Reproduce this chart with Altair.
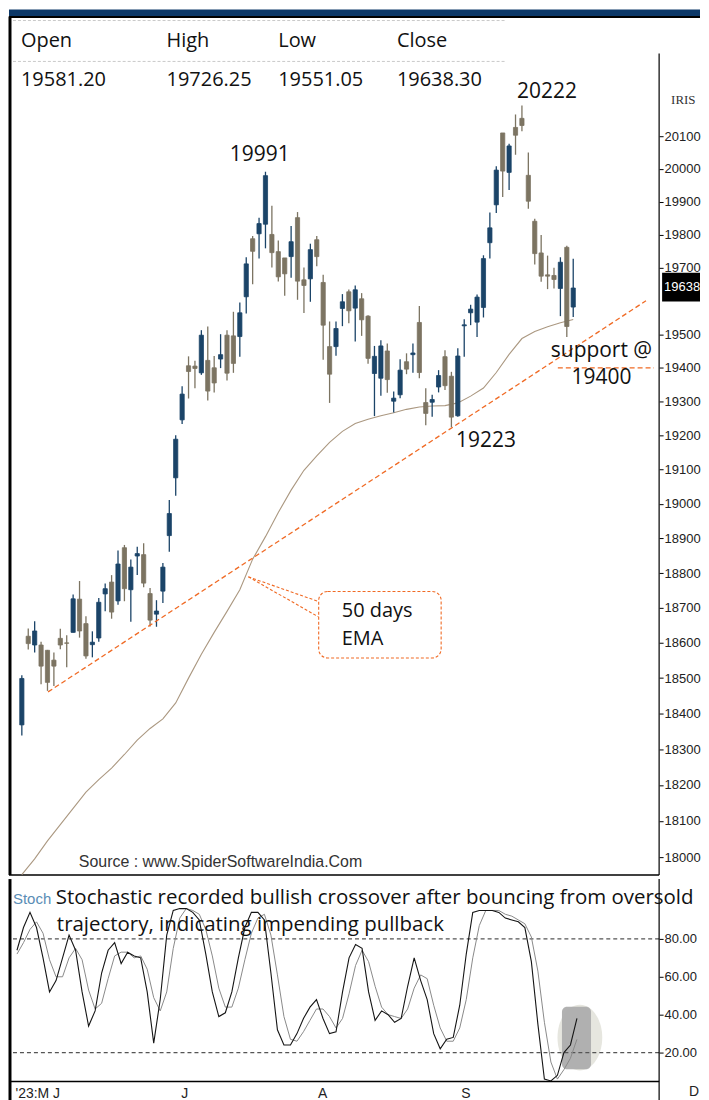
import json
import altair as alt
import pandas as pd

# ---------------- data ----------------
# daily candles, 26 May 2023 -> 29 Sep 2023 (index = trading-day slot)
opens = [18368, 18619, 18594, 18594, 18579, 18551, 18613, 18600, 18630, 18725,
         18655, 18595, 18614, 18740, 18774, 18720, 18873, 18752, 18849, 18853,
         18741, 18682, 18748, 18908, 19076, 19246, 19406, 19405, 19385, 19422,
         19400, 19426, 19497, 19495, 19493, 19612, 19787, 19802, 19831, 19800,
         19748, 19729, 19733, 19851, 19663, 19666, 19784, 19655, 19463, 19463,
         19577, 19627, 19578, 19606, 19554, 19383, 19369, 19450, 19301, 19320,
         19418, 19439, 19535, 19297, 19298, 19343, 19433, 19375, 19258, 19525,
         19564, 19536, 19580, 19775, 19890, 20110, 19989, 20127, 20155, 19980,
         19840, 19744, 19678, 19676, 19637, 19761, 19581.20]
highs = [18508, 18641, 18662, 18603, 18580, 18573, 18640, 18622, 18738, 18777,
         18676, 18633, 18728, 18770, 18794, 18865, 18881, 18839, 18876, 18886,
         18757, 18722, 18829, 19011, 19201, 19345, 19434, 19421, 19512, 19523,
         19435, 19500, 19512, 19567, 19595, 19731, 19795, 19851, 19991, 19887,
         19782, 19729, 19826, 19868, 19700, 19772, 19795, 19678, 19538, 19538,
         19620, 19634, 19646, 19623, 19557, 19465, 19482, 19472, 19330, 19425,
         19443, 19472, 19584, 19339, 19320, 19393, 19452, 19388, 19458, 19545,
         19588, 19619, 19737, 19867, 20008, 20110, 20077, 20167, 20195, 20050,
         19848, 19798, 19736, 19699, 19731, 19766, 19726.25]
lows = [18338, 18581, 18573, 18483, 18464, 18478, 18582, 18531, 18630, 18615,
        18555, 18559, 18603, 18690, 18669, 18709, 18719, 18660, 18794, 18759,
        18647, 18646, 18714, 18861, 19024, 19234, 19309, 19339, 19379, 19303,
        19327, 19399, 19362, 19385, 19433, 19562, 19650, 19727, 19758, 19700,
        19658, 19615, 19669, 19603, 19563, 19597, 19704, 19424, 19296, 19436,
        19524, 19533, 19478, 19495, 19412, 19257, 19317, 19326, 19268, 19310,
        19381, 19385, 19369, 19230, 19255, 19327, 19334, 19224, 19255, 19433,
        19527, 19492, 19550, 19727, 19865, 19914, 19935, 20043, 20115, 19878,
        19709, 19657, 19635, 19637, 19554, 19492, 19551.05]
closes = [18499, 18598, 18634, 18534, 18488, 18534, 18594, 18599, 18726, 18634,
          18563, 18602, 18716, 18755, 18688, 18826, 18755, 18817, 18856, 18771,
          18665, 18691, 18817, 18972, 19189, 19322, 19389, 19398, 19497, 19331,
          19355, 19439, 19384, 19413, 19564, 19711, 19749, 19833, 19979, 19745,
          19672, 19681, 19778, 19659, 19646, 19754, 19733, 19527, 19381, 19517,
          19597, 19570, 19633, 19543, 19428, 19434, 19465, 19365, 19310, 19393,
          19396, 19444, 19386, 19265, 19306, 19377, 19347, 19254, 19435, 19528,
          19575, 19611, 19727, 19820, 19996, 19993, 20070, 20103, 20133, 19901,
          19742, 19674, 19674, 19664, 19716, 19523, 19638.30]

# 50-day EMA read every second slot
ema_idx = [0, 2, 4, 6, 8, 10, 12, 14, 16, 18, 20, 22, 24, 26, 28, 30, 32, 34, 36, 38, 40, 42,
           44, 46, 48, 50, 52, 54, 56, 58, 60, 62, 64, 66, 68, 70, 72, 74, 76, 78, 80, 82, 84, 86]
ema_val = [17952, 17995, 18045, 18090, 18135, 18180, 18215, 18247, 18285, 18325, 18358, 18385,
           18430, 18500, 18568, 18630, 18690, 18752, 18840, 18905, 18975, 19040, 19098, 19140,
           19180, 19212, 19235, 19248, 19258, 19267, 19277, 19284, 19287, 19288, 19296, 19316,
           19340, 19386, 19440, 19487, 19508, 19522, 19534, 19544]

# stochastic %K and %D
stoch_k = [74, 86, 94, 86, 70, 52, 58, 70, 82, 74,
           52, 34, 42, 62, 74, 78, 67, 73, 71, 70,
           52, 25, 48, 82, 95, 96, 96, 94, 90, 72,
           52, 39, 41, 52, 70, 86, 94, 94, 90, 62,
           32, 24, 24, 30, 38, 44, 48, 38, 30, 31,
           52, 70, 77, 75, 52, 37, 42, 40, 36, 38,
           55, 70, 58, 48, 30, 22, 27, 28, 45, 72,
           94, 95, 95, 95, 94, 91, 90, 89, 86, 68,
           35, 6, 5, 8, 20, 24, 38]
stoch_d = [72, 78, 85, 89, 83, 69, 60, 60, 70, 75,
           69, 53, 43, 46, 59, 71, 73, 73, 70, 71,
           64, 49, 42, 52, 75, 91, 96, 95, 93, 85,
           71, 54, 44, 44, 54, 69, 83, 91, 93, 82,
           61, 39, 27, 26, 31, 37, 43, 43, 39, 33,
           38, 51, 66, 74, 68, 55, 44, 40, 39, 38,
           43, 54, 61, 59, 45, 33, 26, 26, 33, 48,
           70, 87, 95, 95, 95, 93, 92, 90, 88, 81,
           63, 36, 15, 6, 11, 17, 27]

price_ticks = [18000, 18100, 18200, 18300, 18400, 18500, 18600, 18700, 18800, 18900, 19000,
               19100, 19200, 19300, 19400, 19500, 19700, 19800, 19900, 20000, 20100]
stoch_ticks = [20, 40, 60, 80]
month_tick_idx = [-0.46, 25, 46, 68]
month_tick_lab = ["'23:M J", "J", "A", "S"]

ohlc_names = ["Open", "High", "Low", "Close"]
ohlc_values = ["19581.20", "19726.25", "19551.05", "19638.30"]

trend_idx = [4.09, 97.35]
trend_price = [18461, 19600]
support_idx = [83.6, 98.6]
support_price = [19400, 19400]

# ---------------- styling ----------------
BLUE = "#1b4468"
BROWN = "#7c7462"
ORANGE = "#f06a24"
EMA_C = "#ab9881"
TXT_FONT = "Open Sans"
AX_FONT = "Liberation Sans"

W = 652
H_PRICE = 868
H_STOCH = 203
RIGHT = 693  # whole chart must stay inside the page body

x_dom = [-1.225, 98.62]
x_scale = alt.Scale(domain=x_dom, nice=False, zero=False)
y_scale = alt.Scale(type="log", domain=[17950.6, 20493.4], nice=False, zero=False)
sy_scale = alt.Scale(domain=[4.74, 111.58], nice=False, zero=False)

price_axis = alt.Axis(orient="right", values=price_ticks, format="d", title=None, grid=False,
                      domain=False, tickColor="#000", tickSize=4, labelPadding=1,
                      labelFont=AX_FONT, labelFontSize=13, labelColor="#222")

one = alt.InlineData(values=[{"a": 0}])

candles = pd.DataFrame({"idx": list(range(len(opens))), "open": opens, "high": highs,
                        "low": lows, "close": closes})
ema_df = pd.DataFrame({"idx": ema_idx, "ema": ema_val})
stoch_df = pd.DataFrame({"idx": list(range(len(stoch_k))), "k": stoch_k, "d": stoch_d})

cond = alt.condition("datum.close >= datum.open", alt.value(BLUE), alt.value(BROWN))


def X(field="idx:Q"):
    return alt.X(field, scale=x_scale, axis=None, title=None)


def Y(field):
    return alt.Y(field, scale=y_scale, axis=price_axis, title=None)


def ptext(text, xi, yp, size=21, align="center", baseline="middle", color="#111", font=TXT_FONT):
    return alt.Chart(one).mark_text(text=text, align=align, baseline=baseline, fontSize=size,
                                    font=font, color=color).encode(
        x=alt.X(datum=xi, scale=x_scale, axis=None),
        y=alt.Y(datum=yp, scale=y_scale, axis=price_axis))


def pix_text(text, px, py, size=21, align="left", baseline="middle", color="#111", font=TXT_FONT):
    return alt.Chart(one).mark_text(text=text, align=align, baseline=baseline, fontSize=size,
                                    font=font, color=color).encode(x=alt.value(px), y=alt.value(py))


def pix_rule(x1, x2, y1, y2, color="#000", width=1.5, dash=None):
    kw = dict(color=color, strokeWidth=width)
    if dash:
        kw["strokeDash"] = dash
    return alt.Chart(one).mark_rule(**kw).encode(
        x=alt.value(x1), x2=alt.value(x2), y=alt.value(y1), y2=alt.value(y2))


layers = []
# header band + frame
layers.append(alt.Chart(one).mark_rect(color="#0c3868").encode(
    x=alt.value(0), x2=alt.value(RIGHT), y=alt.value(0), y2=alt.value(7)))
layers.append(pix_rule(0, RIGHT, 7.5, 7.5, width=2))
layers.append(pix_rule(1, 1, 7, H_PRICE, width=3))
layers.append(pix_rule(W, W, 44, H_PRICE, width=1.2))
layers.append(pix_rule(0, W, H_PRICE, H_PRICE, width=1.5))
# header table
for yy in (11, 52):
    layers.append(pix_rule(4, 497, yy, yy, color="#c9c9c9", width=1, dash=[3, 2]))
col_x = [12, 158, 270, 389]
for name, val, cx in zip(ohlc_names, ohlc_values, col_x):
    layers.append(pix_text(name, cx, 32, size=20))
    layers.append(pix_text(val, cx, 71, size=20))

# EMA
layers.append(alt.Chart(ema_df).mark_line(color=EMA_C, strokeWidth=1.1).encode(x=X(), y=Y("ema:Q")))

# candles
base = alt.Chart(candles)
layers.append(base.mark_rule(strokeWidth=1.3).encode(x=X(), y=Y("low:Q"), y2="high:Q", color=cond))
layers.append(base.mark_bar(size=4.2, strokeWidth=0.8).encode(
    x=X(), y=Y("open:Q"), y2="close:Q", color=cond, stroke=cond))

# trend line & support line
tr = pd.DataFrame({"idx": trend_idx, "price": trend_price})
layers.append(alt.Chart(tr).mark_line(color=ORANGE, strokeDash=[5, 3], strokeWidth=1.3).encode(
    x=X(), y=Y("price:Q")))
sp = pd.DataFrame({"idx": support_idx, "price": support_price})
layers.append(alt.Chart(sp).mark_line(color=ORANGE, strokeDash=[5, 3], strokeWidth=1.3).encode(
    x=X(), y=Y("price:Q")))

# callout for 50 days EMA
ptr = pd.DataFrame({"idx": [35.33, 46.3, 35.33, 46.3], "price": [18789, 18718, 18789, 18674],
                    "g": [0, 0, 1, 1]})
layers.append(alt.Chart(ptr).mark_line(color=ORANGE, strokeDash=[3, 2], strokeWidth=1.1).encode(
    x=X(), y=Y("price:Q"), detail="g:N"))
layers.append(alt.Chart(one).mark_rect(fill="white", stroke=ORANGE, strokeDash=[3, 2],
                                       strokeWidth=1.1, cornerRadius=9).encode(
    x=alt.X(datum=46.3, scale=x_scale, axis=None), x2=alt.X2(datum=65.4),
    y=alt.Y(datum=18747, scale=y_scale, axis=price_axis), y2=alt.Y2(datum=18557)))
layers.append(ptext("50 days", 49.9, 18690, size=20, align="left"))
layers.append(ptext("EMA", 49.9, 18610, size=20, align="left"))

# annotations
layers.append(ptext("20222", 81.9, 20235))
layers.append(ptext("19991", 37.1, 20041))
layers.append(ptext("19223", 72.4, 19183))
layers.append(ptext("support @", 90.4, 19451))
layers.append(ptext("19400", 90.4, 19370))

# watermark and right-side labels
layers.append(pix_text("Source : www.SpiderSoftwareIndia.Com", 70, 855, size=16,
                       font=AX_FONT, color="#333"))
layers.append(pix_text("IRIS", 664, 91, size=13, font="Liberation Serif", color="#333"))
layers.append(alt.Chart(one).mark_rect(color="#000").encode(
    x=alt.value(655), x2=alt.value(RIGHT),
    y=alt.Y(datum=19684, scale=y_scale, axis=price_axis), y2=alt.Y2(datum=19598)))
layers.append(alt.Chart(one).mark_text(text="19638", align="left", baseline="middle", fontSize=13,
                                       font=AX_FONT, color="white").encode(
    x=alt.value(657), y=alt.Y(datum=19642, scale=y_scale, axis=price_axis)))

price = alt.layer(*layers).properties(width=W, height=H_PRICE)

# ---------------- stochastic panel ----------------
label_expr = f"{json.dumps(month_tick_lab)}[indexof({json.dumps(month_tick_idx)}, datum.value)]"
sx_axis = alt.Axis(values=month_tick_idx, labelExpr=label_expr, ticks=False, domain=False, grid=False,
                   labelAlign="left", labelFont=AX_FONT, labelFontSize=14, labelColor="#222",
                   labelPadding=5, labelFlush=False, labelOverlap=False, labelBound=False,
                   labelOffset=1, title=None)
sy_axis = alt.Axis(orient="right", values=stoch_ticks, format=".2f", title=None, grid=False,
                   domain=False, tickColor="#000", tickSize=4, labelPadding=1,
                   labelFont=AX_FONT, labelFontSize=13, labelColor="#222")


def SX(field="idx:Q"):
    return alt.X(field, scale=x_scale, axis=sx_axis, title=None)


def SY(field):
    return alt.Y(field, scale=sy_scale, axis=sy_axis, title=None)


ell_path = "M-0.68,0A0.68,1,0,1,1,0.68,0A0.68,1,0,1,1,-0.68,0Z"
s_layers = []
s_layers.append(alt.Chart(one).mark_point(shape=ell_path, filled=True, size=66 * 66,
                                          color="#e6e6df", opacity=1).encode(
    x=alt.X(datum=86.45, scale=x_scale, axis=sx_axis), y=alt.Y(datum=27.9, scale=sy_scale, axis=sy_axis)))
s_layers.append(alt.Chart(one).mark_rect(color="#adadad", cornerRadius=5, opacity=0.95).encode(
    x=alt.X(datum=83.7, scale=x_scale, axis=sx_axis), x2=alt.X2(datum=88.16),
    y=alt.Y(datum=44.2, scale=sy_scale, axis=sy_axis), y2=alt.Y2(datum=11.2)))
for lvl in (80, 20):
    s_layers.append(alt.Chart(one).mark_rule(color="#555", strokeDash=[4, 3], strokeWidth=1.2).encode(
        y=alt.Y(datum=lvl, scale=sy_scale, axis=sy_axis)))
s_layers.append(alt.Chart(stoch_df).mark_line(color="#8a8a8a", strokeWidth=1.0).encode(
    x=SX(), y=SY("d:Q")))
s_layers.append(alt.Chart(stoch_df).mark_line(color="#151515", strokeWidth=1.1).encode(
    x=SX(), y=SY("k:Q")))
# frame of the lower pane
s_layers.append(pix_rule(1, 1, 0, 222, width=3))
s_layers.append(pix_rule(W, W, 0, 222, width=1.2))
s_layers.append(pix_rule(0, W, H_STOCH, H_STOCH, width=1.5))
s_layers.append(pix_text("Stoch", 4, 25, size=15, baseline="alphabetic", font=AX_FONT, color="#5a8db5"))
s_layers.append(pix_text("Stochastic recorded bullish crossover after bouncing from oversold",
                         47, 25, size=20.5, baseline="alphabetic"))
s_layers.append(pix_text("trajectory, indicating impending pullback", 48, 52, size=20.5,
                         baseline="alphabetic"))
s_layers.append(pix_text("D", 682, 214, size=14, font=AX_FONT, color="#222"))

stoch = alt.layer(*s_layers).properties(width=W, height=H_STOCH)

chart = alt.vconcat(price, stoch, spacing=0, padding=0, background="white").configure_view(
    stroke=None)

chart.save("out.html", embed_options={"renderer": "svg", "actions": False})
